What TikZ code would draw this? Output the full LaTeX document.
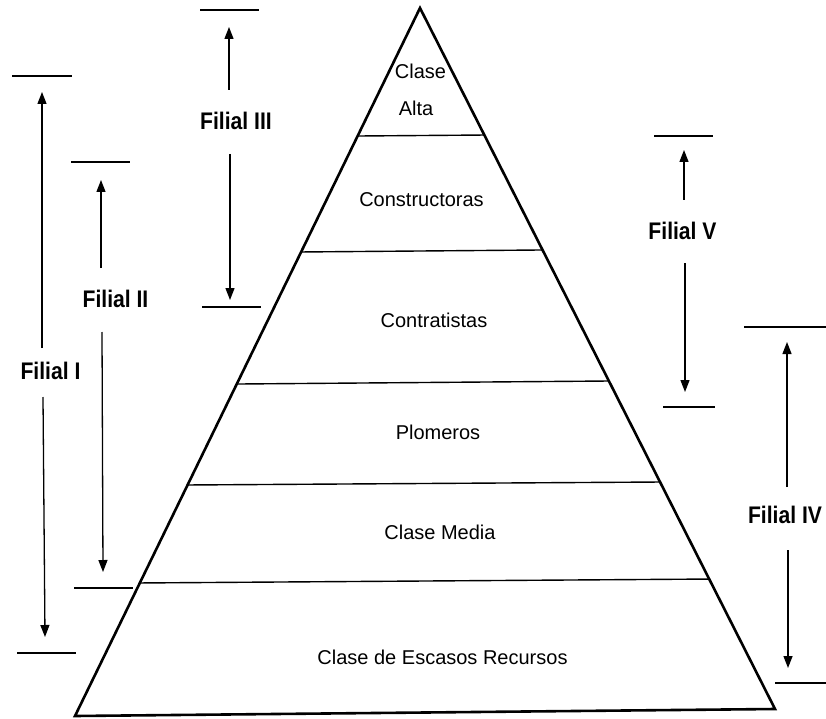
\documentclass[tikz,border=0pt]{standalone}
\usepackage{fontspec}
\usepackage{graphicx}
\setmainfont{Liberation Sans}
\usetikzlibrary{arrows.meta,calc}
\begin{document}
\begin{tikzpicture}[x=1pt,y=-1pt,
  edge/.style={line width=2.6pt, line join=miter},
  divider/.style={line width=1.4pt},
  tick/.style={line width=1.6pt},
  arr/.style={line width=1.3pt, -{Triangle[length=12pt,width=9pt]}},
  lbl/.style={font=\fontsize{20}{24}\selectfont, inner sep=0pt},
  fil/.style={font=\fontsize{24}{28}\selectfont\bfseries, inner sep=0pt}]
\useasboundingbox[fill=white] (0,0) rectangle (826,719);

% pyramid
\coordinate (apex) at (420,8);
\coordinate (bl) at (75,716);
\coordinate (br) at (775,709);
\draw[edge] (bl) -- (apex) -- (br) -- cycle;

\coordinate (d1l) at ($(apex)!0.1808!(bl)$);
\coordinate (d1r) at ($(apex)!0.1812!(br)$);
\coordinate (d2l) at ($(apex)!0.3446!(bl)$);
\coordinate (d2r) at ($(apex)!0.3452!(br)$);
\coordinate (d3l) at ($(apex)!0.5311!(bl)$);
\coordinate (d3r) at ($(apex)!0.5321!(br)$);
\coordinate (d4l) at ($(apex)!0.6737!(bl)$);
\coordinate (d4r) at ($(apex)!0.6762!(br)$);
\coordinate (d5l) at ($(apex)!0.8121!(bl)$);
\coordinate (d5r) at ($(apex)!0.8146!(br)$);
\draw[divider] (d1l) -- (d1r);
\draw[divider] (d2l) -- (d2r);
\draw[divider] (d3l) -- (d3r);
\draw[divider] (d4l) -- (d4r);
\draw[divider] (d5l) -- (d5r);

% layer texts
\node[lbl] (clase) at (420.5,71) {Clase};
\node[lbl] (alta) at (416,108) {Alta};
\node[lbl] (constr) at (421.5,200) {Constructoras};
\node[lbl] (contr) at (434,320) {Contratistas};
\node[lbl] (plom) at (438,432) {Plomeros};
\node[lbl] (media) at (440,532) {Clase Media};
\node[lbl] (escasos) at (442.5,657) {Clase de Escasos Recursos};

% Filial labels
\node[fil] (f3) at (236,121) {\scalebox{0.88}[1]{Filial III}};
\node[fil] (f2) at (115.5,299) {\scalebox{0.88}[1]{Filial II}};
\node[fil] (f1) at (50.5,371) {\scalebox{0.88}[1]{Filial I}};
\node[fil] (f5) at (682.5,231) {\scalebox{0.88}[1]{Filial V}};
\node[fil] (f4) at (785,515) {\scalebox{0.88}[1]{Filial IV}};

% Filial III
\coordinate (t3a) at (200,10); \coordinate (t3b) at (259,10);
\coordinate (b3a) at (202,307); \coordinate (b3b) at (261,307);
\draw[tick] (t3a) -- (t3b);
\draw[tick] (b3a) -- (b3b);
\coordinate (u3s) at (229,90); \coordinate (u3t) at (229,27);
\coordinate (w3s) at (230,154); \coordinate (w3t) at (230,300);
\draw[arr] (u3s) -- (u3t);
\draw[arr] (w3s) -- (w3t);

% Filial I
\coordinate (t1a) at (12,76); \coordinate (t1b) at (72,76);
\coordinate (b1a) at (17,653); \coordinate (b1b) at (76,653);
\draw[tick] (t1a) -- (t1b);
\draw[tick] (b1a) -- (b1b);
\coordinate (u1s) at (42,348); \coordinate (u1t) at (42,92);
\coordinate (w1s) at (43,397); \coordinate (w1t) at (45,637);
\draw[arr] (u1s) -- (u1t);
\draw[arr] (w1s) -- (w1t);

% Filial II
\coordinate (t2a) at (71,162); \coordinate (t2b) at (130,162);
\coordinate (b2a) at (74,588); \coordinate (b2b) at (133,588);
\draw[tick] (t2a) -- (t2b);
\draw[tick] (b2a) -- (b2b);
\coordinate (u2s) at (101,268); \coordinate (u2t) at (101,180);
\coordinate (w2s) at (102,332); \coordinate (w2t) at (103,572);
\draw[arr] (u2s) -- (u2t);
\draw[arr] (w2s) -- (w2t);

% Filial V
\coordinate (t5a) at (654,136); \coordinate (t5b) at (713,136);
\coordinate (b5a) at (663,407); \coordinate (b5b) at (715,407);
\draw[tick] (t5a) -- (t5b);
\draw[tick] (b5a) -- (b5b);
\coordinate (u5s) at (684,200); \coordinate (u5t) at (684,150);
\coordinate (w5s) at (685,263); \coordinate (w5t) at (685,392);
\draw[arr] (u5s) -- (u5t);
\draw[arr] (w5s) -- (w5t);

% Filial IV
\coordinate (t4a) at (744,327); \coordinate (t4b) at (826,327);
\coordinate (b4a) at (775,683); \coordinate (b4b) at (826,683);
\draw[tick] (t4a) -- (t4b);
\draw[tick] (b4a) -- (b4b);
\coordinate (u4s) at (787,487); \coordinate (u4t) at (787,342);
\coordinate (w4s) at (788,550); \coordinate (w4t) at (788,668);
\draw[arr] (u4s) -- (u4t);
\draw[arr] (w4s) -- (w4t);
\end{tikzpicture}
\end{document}
